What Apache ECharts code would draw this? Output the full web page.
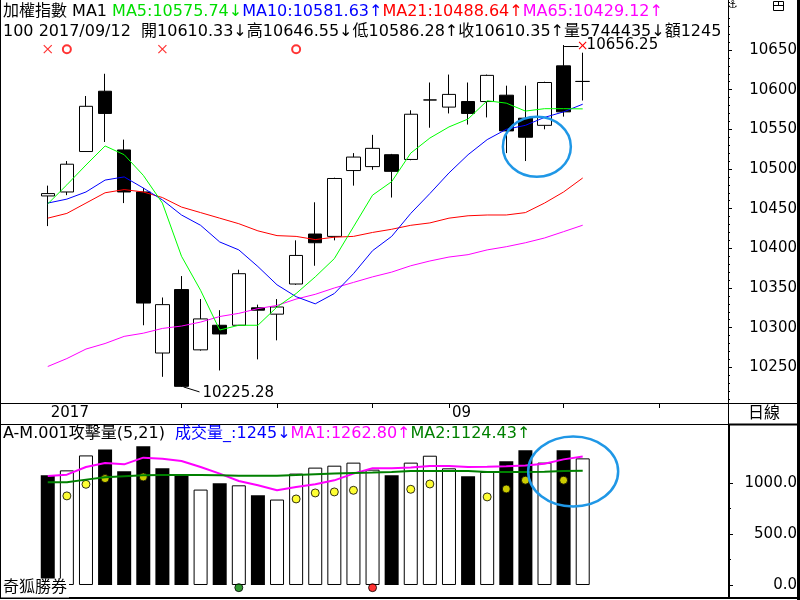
<!DOCTYPE html>
<html>
<head>
<meta charset="utf-8">
<script src="https://cdn.jsdelivr.net/npm/echarts@6/dist/echarts.min.js"></script>
<style>
html, body { margin: 0; padding: 0; background: #fff; }
#chart { width: 800px; height: 600px; }
</style>
</head>
<body>
<div id="chart"></div>
<script>
// two empty slots before the first bar, seven after the last
const LEAD = 2;
const categories = [
	"08/01", "08/02",
	"08/03", "08/04", "08/07", "08/08", "08/09", "08/10", "08/11", "08/14", "08/15", "08/16",
	"08/17", "08/18", "08/21", "08/22", "08/23", "08/24", "08/25", "08/28", "08/29", "08/30",
	"08/31", "09/01", "09/04", "09/05", "09/06", "09/07", "09/08", "09/11", "09/12",
	"09/13", "09/14", "09/15", "09/18", "09/19", "09/20", "09/21"
];

const opens = [10466, 10471, 10522, 10598, 10524, 10471, 10268, 10348, 10272, 10303, 10303, 10325, 10317, 10355, 10418, 10415, 10498, 10503, 10518, 10512, 10587, 10578, 10585, 10585, 10593, 10564, 10555, 10630, 10610.33];
const closes = [10469, 10506, 10579, 10570, 10471, 10331, 10329, 10226, 10311, 10292, 10368, 10322, 10326, 10391, 10407, 10488, 10515, 10526, 10497, 10569, 10587, 10594, 10570, 10618, 10548, 10540, 10609, 10572, 10610.35];
const lows = [10428, 10467, 10522, 10534, 10457, 10303, 10238, 10225.28, 10271, 10246, 10303, 10260, 10284, 10354, 10378, 10410, 10479, 10499, 10464, 10511, 10552, 10570, 10556, 10565, 10520, 10510, 10550, 10566, 10586.28];
const highs = [10479, 10510, 10592, 10620, 10537, 10476, 10338, 10365, 10336, 10322, 10373, 10329, 10336, 10410, 10458, 10489, 10520, 10543, 10519, 10574, 10609, 10619, 10609, 10619, 10605, 10605, 10610, 10656.25, 10646.55];

const ma5 = [10456, 10480, 10505, 10529, 10518, 10492, 10457, 10390, 10347, 10297, 10303, 10303, 10326, 10343, 10364, 10387, 10427, 10467, 10484, 10520, 10539, 10553, 10563, 10586, 10583, 10573, 10576, 10576, 10575.74];
const ma10 = [10457, 10462, 10471, 10486, 10490, 10476, 10461, 10442, 10429, 10408, 10398, 10377, 10354, 10339, 10330, 10343, 10368, 10397, 10415, 10444, 10469, 10495, 10518, 10537, 10550, 10555, 10565, 10572, 10581.63];
const ma21 = [10438, 10444, 10457, 10470, 10474, 10471, 10464, 10452, 10445, 10438, 10431, 10422, 10416, 10415, 10411, 10414, 10415, 10420, 10424, 10429, 10432, 10438, 10441, 10442, 10442, 10445, 10457, 10471, 10488.64];
const ma65 = [10251, 10261, 10273, 10280, 10289, 10293, 10299, 10302, 10307, 10314, 10318, 10324, 10328, 10336, 10342, 10350, 10357, 10364, 10370, 10378, 10384, 10389, 10392, 10398, 10402, 10407, 10413, 10421, 10429.12];

const volumes = [1078, 1127, 1274, 1333, 1118, 1363, 1147, 1072, 938, 1000, 980, 882, 840, 1095, 1154, 1173, 1203, 1134, 1078, 1203, 1271, 1147, 1069, 1111, 1216, 1324, 1203, 1324, 1245];
const volUp = [0, 1, 1, 0, 0, 0, 0, 0, 1, 0, 1, 0, 1, 1, 1, 1, 1, 1, 0, 1, 1, 1, 0, 1, 0, 0, 1, 0, 1];
const volMa1 = [1072, 1085, 1160, 1199, 1186, 1252, 1242, 1219, 1160, 1095, 1023, 980, 931, 964, 990, 1029, 1095, 1147, 1147, 1154, 1170, 1170, 1160, 1163, 1167, 1176, 1193, 1235, 1262.8];
const volMa2 = [1010, 1010, 1036, 1059, 1069, 1078, 1081, 1081, 1081, 1078, 1075, 1075, 1075, 1081, 1088, 1095, 1101, 1105, 1111, 1121, 1121, 1121, 1121, 1111, 1111, 1111, 1114, 1121, 1124.43];

const dotIdx = [1, 2, 3, 5, 13, 14, 15, 16, 19, 20, 23, 24, 25, 27];
const dotVal = [876, 990, 1046, 1062, 846, 905, 915, 931, 941, 993, 866, 944, 1030, 1030];
const greenIdx = [10];
const redIdx = [17];
const flagVal = -26;

const crossIdx = [0, 6];
const ringIdx = [1, 13];
const signalVal = 10651;

const priceTicks = [10250, 10300, 10350, 10400, 10450, 10500, 10550, 10600, 10650];
const volTicks = [0, 500, 1000];
const volMinorTicks = [250, 750];
const tickDates = ["08/14", "08/21", "08/28", "09/01", "09/11", "09/18"];
const dateLabels = { "08/03": "2017", "09/01": "09" };
const yearLine = "08/03";

const headerTop = [
	{ text: "加權指數 MA1 ", color: "#000000" },
	{ text: "MA5:10575.74↓", color: "#00dd00" },
	{ text: "MA10:10581.63↑", color: "#0000ff" },
	{ text: "MA21:10488.64↑", color: "#ff0000" },
	{ text: "MA65:10429.12↑", color: "#ff00ff" }
];
const headerQuote = "100 2017/09/12  開10610.33↓高10646.55↓低10586.28↑收10610.35↑量5744435↓額1245";
const headerVol = [
	{ text: "A-M.001攻擊量(5,21)  ", color: "#000000" },
	{ text: "成交量_:1245↓", color: "#0000ff" },
	{ text: "MA1:1262.80↑", color: "#ff00ff" },
	{ text: "MA2:1124.43↑", color: "#008000" }
];

const minorPriceTicks = [];
for (let v = 10210; v <= 10710; v += 10) if (v % 50 !== 0) minorPriceTicks.push(v);

const font = '"DejaVu Sans", "Noto Sans CJK TC", sans-serif';
const ink = "#000000";

const at = (list) => list.map((v, i) => [i + LEAD, v]);

const chart = echarts.init(document.getElementById("chart"), null, { renderer: "canvas" });

const labelBase = { color: ink, fontFamily: font, fontSize: 15 };

chart.setOption({
	animation: false,
	backgroundColor: "#ffffff",
	grid: [
		{ left: 0, top: 0, width: 726, height: 403 },
		{ left: 0, top: 425, width: 726, height: 172 }
	],
	xAxis: [
		{
			type: "category", gridIndex: 0, data: categories, boundaryGap: true,
			axisLine: { show: false },
			axisTick: { show: true, alignWithLabel: true, length: 5, interval: (i, v) => tickDates.includes(v), lineStyle: { color: ink, width: 1 } },
			axisLabel: { ...labelBase, interval: (i, v) => v in dateLabels, formatter: v => dateLabels[v] || "", align: "left", margin: 3, lineHeight: 15, padding: [0, 0, 0, 3] },
			splitLine: { show: false }
		},
		{
			type: "category", gridIndex: 0, data: categories, boundaryGap: true,
			axisLine: { show: false },
			axisTick: { show: true, alignWithLabel: true, length: 21, interval: (i, v) => v === yearLine, lineStyle: { color: ink, width: 1 } },
			axisLabel: { show: false },
			splitLine: { show: false }
		},
		{ type: "category", gridIndex: 1, data: categories, boundaryGap: true, show: false }
	],
	yAxis: [
		{
			type: "value", gridIndex: 0, position: "right", offset: 2, min: 10205, max: 10713,
			axisLine: { show: false },
			axisTick: { show: true, length: 4, customValues: priceTicks, lineStyle: { color: ink } },
			axisLabel: { ...labelBase, customValues: priceTicks, align: "right", margin: 69, formatter: v => String(v) },
			splitLine: { show: false }
		},
		{
			type: "value", gridIndex: 0, position: "right", offset: 2, min: 10205, max: 10713,
			axisLine: { show: false },
			axisTick: { show: true, length: 2, customValues: minorPriceTicks, lineStyle: { color: ink } },
			axisLabel: { show: false },
			splitLine: { show: false }
		},
		{
			type: "value", gridIndex: 1, position: "right", offset: 3, min: -118, max: 1573,
			axisLine: { show: false },
			axisTick: { show: true, length: 4, customValues: volTicks, lineStyle: { color: ink } },
			axisLabel: { ...labelBase, customValues: volTicks, align: "right", margin: 68, formatter: v => v.toFixed(1) },
			splitLine: { show: false }
		},
		{
			type: "value", gridIndex: 1, position: "right", offset: 3, min: -118, max: 1573,
			axisLine: { show: false },
			axisTick: { show: true, length: 2, customValues: volMinorTicks, lineStyle: { color: ink } },
			axisLabel: { show: false },
			splitLine: { show: false }
		}
	],
	series: [
		{
			name: "加權指數", type: "candlestick", xAxisIndex: 0, yAxisIndex: 0, barWidth: 14,
			data: opens.map((o, i) => [i + LEAD, o, closes[i], lows[i], highs[i]]),
			encode: { x: 0, y: [1, 2, 3, 4] },
			itemStyle: { color: "#ffffff", color0: ink, borderColor: ink, borderColor0: ink, borderColorDoji: ink, borderWidth: 1 }
		},
		{ name: "MA65", type: "line", xAxisIndex: 0, yAxisIndex: 0, data: at(ma65), showSymbol: false, lineStyle: { color: "#ff00ff", width: 1 } },
		{ name: "MA21", type: "line", xAxisIndex: 0, yAxisIndex: 0, data: at(ma21), showSymbol: false, lineStyle: { color: "#ff0000", width: 1 } },
		{ name: "MA10", type: "line", xAxisIndex: 0, yAxisIndex: 0, data: at(ma10), showSymbol: false, lineStyle: { color: "#0000ff", width: 1 } },
		{ name: "MA5", type: "line", xAxisIndex: 0, yAxisIndex: 0, data: at(ma5), showSymbol: false, lineStyle: { color: "#00ff00", width: 1 } },
		{
			name: "sell", type: "scatter", xAxisIndex: 0, yAxisIndex: 0, symbol: "path://M0,0L10,10M10,0L0,10", symbolSize: 8,
			data: crossIdx.map(i => [i + LEAD, signalVal]),
			itemStyle: { color: "transparent", borderColor: "#ff0000", borderWidth: 1.2 }
		},
		{
			name: "buy", type: "scatter", xAxisIndex: 0, yAxisIndex: 0, symbol: "emptyCircle", symbolSize: 8,
			data: ringIdx.map(i => [i + LEAD, signalVal]),
			itemStyle: { color: "#ff0000", borderWidth: 1.2 }
		},
		{
			name: "成交量", type: "bar", xAxisIndex: 2, yAxisIndex: 2, barWidth: 14,
			data: volumes.map((v, i) => ({
				value: [i + LEAD, v],
				itemStyle: volUp[i] ? { color: "#ffffff", borderColor: ink, borderWidth: 1 } : { color: ink }
			}))
		},
		{ name: "MA1", type: "line", xAxisIndex: 2, yAxisIndex: 2, data: at(volMa1), showSymbol: false, lineStyle: { color: "#ff00ff", width: 2 } },
		{ name: "MA2", type: "line", xAxisIndex: 2, yAxisIndex: 2, data: at(volMa2), showSymbol: false, lineStyle: { color: "#008000", width: 2 } },
		{
			name: "攻擊", type: "scatter", xAxisIndex: 2, yAxisIndex: 2, symbolSize: 8,
			data: dotIdx.map((d, i) => [d + LEAD, dotVal[i]]),
			itemStyle: { color: "#ffff00", borderColor: ink, borderWidth: 1 }
		},
		{
			name: "green", type: "scatter", xAxisIndex: 2, yAxisIndex: 2, symbolSize: 8,
			data: greenIdx.map(i => [i + LEAD, flagVal]),
			itemStyle: { color: "#008000", borderColor: ink, borderWidth: 1 }
		},
		{
			name: "red", type: "scatter", xAxisIndex: 2, yAxisIndex: 2, symbolSize: 8,
			data: redIdx.map(i => [i + LEAD, flagVal]),
			itemStyle: { color: "#ff0000", borderColor: ink, borderWidth: 1 }
		}
	]
});

// pixel helpers for annotations
const toPx = (xa, ya, idx, v) => {
	const i = Math.floor(idx);
	const f = idx - i;
	const a = chart.convertToPixel({ xAxisIndex: xa, yAxisIndex: ya }, [i, v]);
	const b = chart.convertToPixel({ xAxisIndex: xa, yAxisIndex: ya }, [i + 1, v]);
	return [a[0] + (b[0] - a[0]) * f, a[1]];
};

const rich = (parts) => {
	const styles = {};
	const text = parts.map((p, i) => {
		styles["p" + i] = { fill: p.color, fontFamily: font, fontSize: 16 };
		return "{p" + i + "|" + p.text + "}";
	}).join("");
	return { text, rich: styles };
};

const line = (x1, y1, x2, y2, w) => ({ type: "line", z: 100, silent: true, shape: { x1, y1, x2, y2 }, style: { stroke: ink, lineWidth: w || 1 } });
const label = (text, x, y, extra) => ({ type: "text", z: 101, silent: true, style: { text, x, y, fill: ink, fontFamily: font, fontSize: 16, verticalAlign: "middle", ...extra } });

const hiIdx = highs.indexOf(Math.max(...highs));
const loIdx = lows.indexOf(Math.min(...lows));
const hi = toPx(0, 0, hiIdx + LEAD, highs[hiIdx]);
const lo = toPx(0, 0, loIdx + LEAD, lows[loIdx]);

const ringA = toPx(0, 0, LEAD + 25.6, 10528);
const ringB = toPx(2, 2, LEAD + 27.5, 1116);

const graphic = [
	// frame
	line(0.5, 0, 0.5, 598),
	line(728.5, 0, 728.5, 425),
	line(729, 424, 729, 598, 2),
	line(0, 403.5, 800, 403.5),
	line(0, 424.5, 728, 424.5),
	line(728, 424.5, 800, 424.5, 2),
	line(0, 598, 800, 598, 2),
	{ type: "rect", z: 100, silent: true, shape: { x: 797, y: 0, width: 3, height: 600 }, style: { fill: ink } },
	// top-right icons
	label("⚓", 733, 5, { fontSize: 11, align: "center" }),
	{ type: "rect", z: 100, silent: true, shape: { x: 773.5, y: 1.5, width: 10, height: 9 }, style: { fill: "none", stroke: ink, lineWidth: 1 } },
	line(773.5, 5.5, 783.5, 5.5),
	line(778.5, 1.5, 778.5, 5.5),
	// headers
	{ type: "text", z: 101, silent: true, style: { x: 3, y: 12, verticalAlign: "middle", ...rich(headerTop) } },
	label(headerQuote, 3, 32),
	{ type: "text", z: 101, silent: true, style: { x: 3, y: 434, verticalAlign: "middle", ...rich(headerVol) } },
	label("日線", 764, 414, { align: "center" }),
	{ type: "text", z: 101, silent: true, style: { text: "奇狐勝券", x: 1, y: 588, fill: ink, fontFamily: font, fontSize: 16, verticalAlign: "middle", backgroundColor: "#ffffff", padding: [2, 2, 1, 2] } },
	// high / low labels
	{ type: "polyline", z: 101, silent: true, shape: { points: [[hi[0] + 0.5, hi[1] + 1.5], [hi[0] + 15, hi[1] + 1.5]] }, style: { stroke: ink, fill: "none", lineWidth: 1 } },
	label("×", hi[0] + 19, hi[1] + 1, { fill: "#ff0000", fontSize: 14, align: "center" }),
	label(highs[hiIdx].toFixed(2), hi[0] + 23, hi[1], { fontSize: 15 }),
	{ type: "polyline", z: 101, silent: true, shape: { points: [[lo[0] + 2, lo[1]], [lo[0] + 18, lo[1] + 5]] }, style: { stroke: ink, fill: "none", lineWidth: 1 } },
	label(lows[loIdx].toFixed(2), lo[0] + 21, lo[1] + 6, { fontSize: 15 }),
	// blue annotation rings
	{ type: "ellipse", z: 102, silent: true, shape: { cx: ringA[0], cy: ringA[1], rx: 34, ry: 30 }, style: { fill: "none", stroke: "#1f97e6", lineWidth: 2.5 } },
	{ type: "ellipse", z: 102, silent: true, shape: { cx: ringB[0], cy: ringB[1], rx: 45, ry: 35 }, style: { fill: "none", stroke: "#1f97e6", lineWidth: 2.5 } }
];

chart.setOption({ graphic });
</script>
</body>
</html>
